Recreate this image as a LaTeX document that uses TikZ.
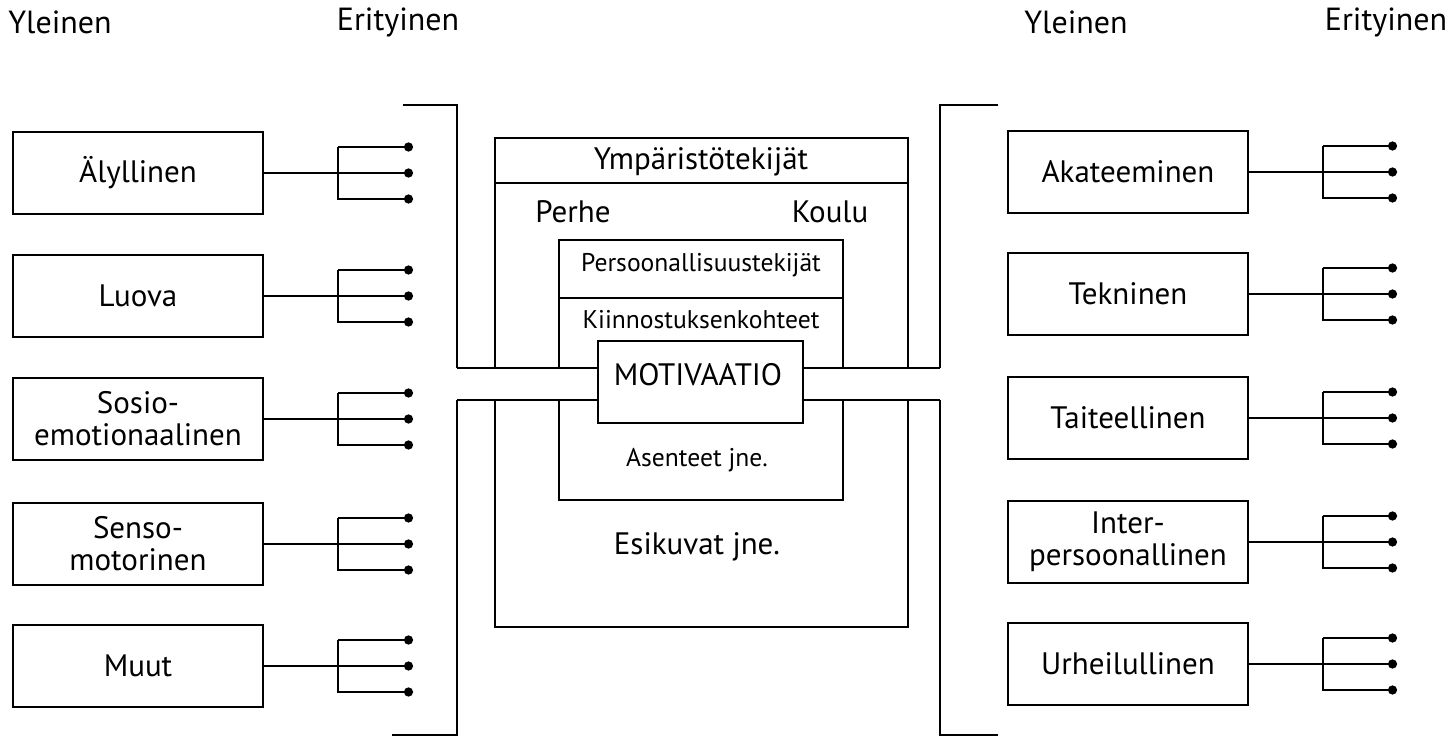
\documentclass[tikz,border=0pt]{standalone}
\usepackage{fontspec}
\setmainfont{PT Sans}
\usetikzlibrary{arrows.meta}
\begin{document}
\begin{tikzpicture}[x=0.5pt,y=-0.5pt, line width=1.4pt,
  lbox/.style={draw, minimum width=125pt, minimum height=41pt, inner sep=0pt, align=center, font=\fontsize{15.5}{16}\selectfont},
  rbox/.style={lbox, minimum width=120pt},
  lbl/.style={inner sep=0pt, font=\fontsize{15.5}{16}\selectfont},
  head/.style={inner sep=0pt, font=\fontsize{16}{17}\selectfont},
  small/.style={inner sep=0pt, font=\fontsize{12.8}{14}\selectfont},
  tine/.style={-{Circle[length=4.5pt]}}]
\useasboundingbox (0,0) rectangle (1453,738);
% headings
\node[head] (h1) at (60,22) {Yleinen};
\node[head] (h2) at (398,22) {Erityinen};
\node[head] (h3) at (1076,22) {Yleinen};
\node[head] (h4) at (1386,22) {Erityinen};
% left boxes with forks
\foreach \n/\y/\t in {1/173/Älyllinen, 2/296/Luova, 3/419/{Sosio-\\emotionaalinen}, 4/544/{Senso-\\motorinen}, 5/666/Muut}{
  \node[lbox] (L\n) at (138,\y) {\t};
  \coordinate (Lt\n) at (338,\y-26);
  \coordinate (Lu\n) at (338,\y+26);
  \coordinate (La\n) at (413,\y-26);
  \coordinate (Lb\n) at (413,\y);
  \coordinate (Lc\n) at (413,\y+26);
  \draw[tine] (L\n.east) -- (Lb\n);
  \draw[tine] (Lt\n) -- (La\n);
  \draw[tine] (Lt\n) -- (Lu\n) -- (Lc\n);
}
% right boxes with forks
\foreach \n/\y/\t in {1/172/Akateeminen, 2/294/Tekninen, 3/418/Taiteellinen, 4/542/{Inter-\\persoonallinen}, 5/664/Urheilullinen}{
  \node[rbox] (R\n) at (1128,\y) {\t};
  \coordinate (Rt\n) at (1323,\y-26);
  \coordinate (Ru\n) at (1323,\y+26);
  \coordinate (Ra\n) at (1397,\y-26);
  \coordinate (Rb\n) at (1397,\y);
  \coordinate (Rc\n) at (1397,\y+26);
  \draw[tine] (R\n.east) -- (Rb\n);
  \draw[tine] (Rt\n) -- (Ra\n);
  \draw[tine] (Rt\n) -- (Ru\n) -- (Rc\n);
}
% brackets
\coordinate (lbt) at (403,105);
\coordinate (lbu) at (457,368);
\coordinate (lbl) at (457,400);
\coordinate (lbb) at (392,735);
\coordinate (rbt) at (998,105);
\coordinate (rbu) at (940,368);
\coordinate (rbl) at (940,400);
\coordinate (rbb) at (998,735);
\draw (lbt) -| (lbu);
\draw (lbl) |- (lbb);
\draw (rbt) -| (rbu);
\draw (rbl) |- (rbb);
% environment box
\draw (495,368) -- (495,138) -- (908,138) -- (908,368);
\draw (495,400) -- (495,627) -- (908,627) -- (908,400);
\draw (495,183) -- (908,183);
\node[lbl] (env) at (701,162) {Ympäristötekijät};
\node[lbl] (perhe) at (573,212) {Perhe};
\node[lbl] (koulu) at (830,212) {Koulu};
\node[lbl] (esik) at (697,547) {Esikuvat jne.};
% personality box
\draw (559,368) -- (559,240) -- (843,240) -- (843,368);
\draw (559,400) -- (559,500) -- (843,500) -- (843,400);
\draw (559,298) -- (843,298);
\node[small] (pers) at (701,265) {Persoonallisuustekijät};
\node[small] (kiin) at (701,320) {Kiinnostuksenkohteet};
\node[small] (asen) at (697,460) {Asenteet jne.};
% motivation
\node[draw, fill=white, minimum width=102.5pt, minimum height=41pt, inner sep=0pt] (mot) at (700.5,382) {};
\node[lbl] (motl) at (698,375) {MOTIVAATIO};
% channel
\draw (lbu) -- (lbu -| mot.west);
\draw (lbl) -- (lbl -| mot.west);
\draw (mot.east |- rbu) -- (rbu);
\draw (mot.east |- rbl) -- (rbl);
\end{tikzpicture}
\end{document}
